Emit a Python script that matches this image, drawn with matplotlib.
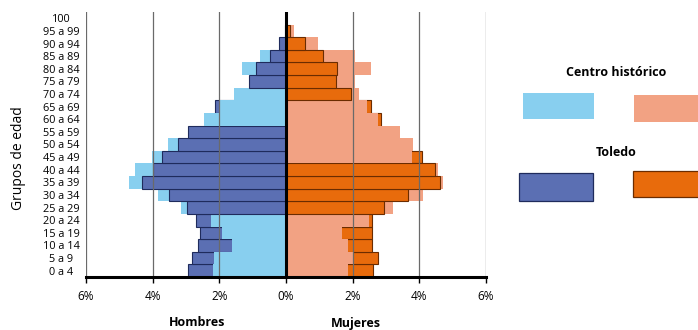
import matplotlib.pyplot as plt
from matplotlib.patches import Rectangle
import numpy as np

plt.rcParams['font.family'] = ['Open Sans', 'DejaVu Sans']

# age groups, youngest first (bottom of the pyramid)
GROUPS = ['0 a 4', '5 a 9', '10 a 14', '15 a 19', '20 a 24', '25 a 29', '30 a 34',
          '35 a 39', '40 a 44', '45 a 49', '50 a 54', '55 a 59', '60 a 64', '65 a 69',
          '70 a 74', '75 a 79', '80 a 84', '85 a 89', '90 a 94', '95 a 99', '100']

# % of population; None = hidden behind the other series in the picture
HOMBRES_CENTRO = [2.19, 2.16, 1.61, 1.91, 2.24, 3.14, 3.83, 4.71, 4.52, 4.01, 3.55,
                  None, 2.46, 1.98, 1.55, None, 1.32, 0.78, None, 0.03, 0.0]
HOMBRES_TOLEDO = [2.94, 2.82, 2.64, 2.57, 2.70, 2.97, 3.50, 4.33, 3.98, 3.73, 3.24,
                  2.94, None, 2.14, None, 1.10, 0.90, 0.48, 0.21, 0.03, 0.01]
MUJERES_CENTRO = [1.85, 2.00, 1.85, 1.68, 2.48, 3.22, 4.12, 4.71, 4.56, 3.78, 3.80,
                  3.41, 2.76, 2.43, 2.20, 2.06, 2.55, 2.06, 0.95, 0.23, 0.05]
MUJERES_TOLEDO = [2.60, 2.75, 2.59, 2.59, 2.57, 2.94, 3.67, 4.63, 4.47, 4.08, None,
                  None, 2.84, 2.54, 1.96, 1.50, 1.53, 1.12, 0.57, 0.13, 0.0]

XTICKS = [-6, -4, -2, 0, 2, 4, 6]
XLABELS = ['6%', '4%', '2%', '0%', '2%', '4%', '6%']

LIGHT_BLUE = '#88CFEF'
DARK_BLUE = '#5B6FB3'
LIGHT_ORANGE = '#F2A283'
DARK_ORANGE = '#E86B0C'
BLUE_EDGE = '#1f2b5c'
ORANGE_EDGE = '#6b2c00'


def draw_side(ax, centro, toledo, sign, light, dark, edge):
    """Overlapping bars: in every row the shorter bar sits in front."""
    for i in range(len(GROUPS)):
        c, t = centro[i], toledo[i]
        c_front = c is not None and (t is None or c < t)
        if c is not None:
            ax.barh(i, sign * c, height=1.0, color=light, linewidth=0,
                    zorder=3 if c_front else 2)
        if t is not None:
            ax.barh(i, sign * t, height=1.0, color=dark, edgecolor=edge,
                    linewidth=0.8, zorder=2 if c_front else 3)


fig = plt.figure(figsize=(6.98, 3.30), dpi=100)
ax = fig.add_axes([86 / 698, 53 / 330, 400 / 698, 265 / 330])

draw_side(ax, HOMBRES_CENTRO, HOMBRES_TOLEDO, -1, LIGHT_BLUE, DARK_BLUE, BLUE_EDGE)
draw_side(ax, MUJERES_CENTRO, MUJERES_TOLEDO, 1, LIGHT_ORANGE, DARK_ORANGE, ORANGE_EDGE)

for x in XTICKS:
    if x == 0:
        ax.axvline(0, color='black', linewidth=2.2, zorder=5)
    else:
        ax.axvline(x, color='#6a6a6a', linewidth=0.9, zorder=4)

ax.set_xlim(-6, 6)
ax.set_ylim(-0.5, len(GROUPS) - 0.5)
for s in ['top', 'right', 'left']:
    ax.spines[s].set_visible(False)
ax.spines['bottom'].set_linewidth(2.2)
ax.spines['bottom'].set_zorder(6)

ax.set_xticks(XTICKS)
ax.set_xticklabels(XLABELS, fontsize=8.5)
ax.tick_params(axis='x', length=4, width=1, pad=5)
ax.set_yticks(range(len(GROUPS)))
ax.set_yticklabels(GROUPS, fontsize=7.8)
ax.tick_params(axis='y', length=0, pad=18)
for lab in ax.get_yticklabels():
    lab.set_horizontalalignment('center')

fig.text(19 / 698, 1 - 158 / 330, 'Grupos de edad', rotation=90, fontsize=10,
         ha='center', va='center')
fig.text(197 / 698, 1 - 323 / 330, 'Hombres', fontsize=9, fontweight='bold',
         ha='center', va='center')
fig.text(356 / 698, 1 - 323 / 330, 'Mujeres', fontsize=9, fontweight='bold',
         ha='center', va='center')

# legend drawn by hand, as in the original
fig.text(616 / 698, 1 - 73 / 330, 'Centro histórico', fontsize=9, fontweight='bold',
         ha='center', va='center')
fig.text(616 / 698, 1 - 152 / 330, 'Toledo', fontsize=9, fontweight='bold',
         ha='center', va='center')


def legend_box(x0, y0, x1, y1, color, edge=None):
    fig.patches.append(Rectangle((x0 / 698, 1 - y1 / 330), (x1 - x0) / 698, (y1 - y0) / 330,
                                 transform=fig.transFigure, facecolor=color,
                                 edgecolor=edge if edge else 'none', linewidth=0.9))


legend_box(523, 93, 594, 119, LIGHT_BLUE)
legend_box(634, 95, 702, 122, LIGHT_ORANGE)
legend_box(519, 173, 593, 201, DARK_BLUE, BLUE_EDGE)
legend_box(633, 171, 702, 197, DARK_ORANGE, ORANGE_EDGE)

fig.savefig('out.png', dpi=100)
